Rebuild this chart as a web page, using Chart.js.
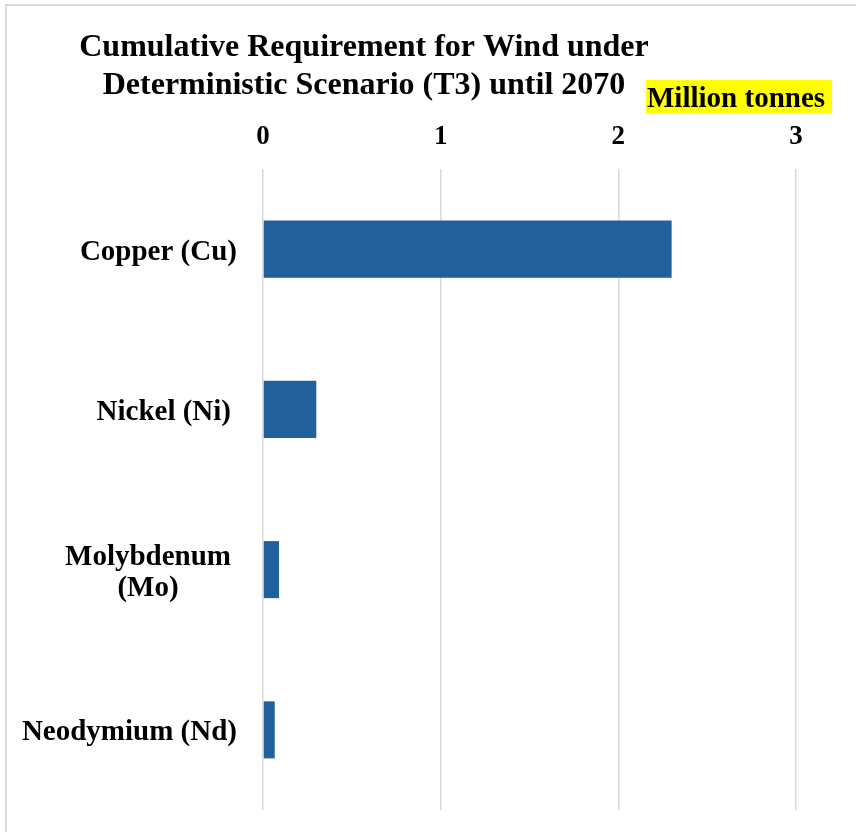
<!DOCTYPE html>
<html>
<head>
<meta charset="utf-8">
<script src="https://cdn.jsdelivr.net/npm/chart.js@4/dist/chart.umd.min.js"></script>
<style>
  html, body { margin: 0; padding: 0; background: #ffffff; }
  #wrap { position: relative; width: 856px; height: 832px; }
</style>
</head>
<body>
<div id="wrap"><canvas id="chart" width="856" height="832"></canvas></div>
<script>
// Cumulative material requirement for wind, million tonnes
const categories = [['Copper (Cu)'], ['Nickel (Ni)'], ['Molybdenum', '(Mo)'], ['Neodymium (Nd)']];
const values = [2.30, 0.30, 0.09, 0.066];
const xTicks = [0, 1, 2, 3];
const titleLines = ['Cumulative Requirement for Wind under', 'Deterministic Scenario (T3) until 2070'];
const unitLabel = 'Million tonnes';

const SERIF = "'Liberation Serif', 'Times New Roman', serif";
const GRID = '#d9d9d9';

// Frame, title, unit tag and category labels
const decorations = {
  id: 'decorations',
  afterDraw(chart) {
    const ctx = chart.ctx;
    ctx.save();

    // frame edges
    ctx.fillStyle = GRID;
    ctx.fillRect(5, 4, 851, 2);
    ctx.fillRect(5, 4, 2, 828);

    // title
    ctx.fillStyle = '#000';
    ctx.font = 'bold 32px ' + SERIF;
    ctx.textAlign = 'center';
    ctx.textBaseline = 'alphabetic';
    ctx.fillText(titleLines[0], 364, 56);
    ctx.fillText(titleLines[1], 364, 94);

    // unit tag
    ctx.font = 'bold 29px ' + SERIF;
    ctx.fillStyle = '#ffff00';
    ctx.fillRect(646, 80, 186, 33);
    ctx.fillStyle = '#000';
    ctx.textAlign = 'left';
    ctx.fillText(unitLabel, 647, 107);

    // category labels: block right-aligned, lines centred inside block
    const yScale = chart.scales.y;
    const rights = [237, 231, 231, 237];
    const lh = 31;
    ctx.textBaseline = 'middle';
    categories.forEach((lines, i) => {
      const yc = yScale.getPixelForTick(i) + 3;
      const maxW = Math.max(...lines.map(l => ctx.measureText(l).width));
      const cx = rights[i] - maxW / 2;
      ctx.textAlign = 'center';
      lines.forEach((l, j) => {
        const y = yc + (j - (lines.length - 1) / 2) * lh;
        ctx.fillText(l, cx, y);
      });
    });
    ctx.restore();
  }
};

new Chart(document.getElementById('chart'), {
  type: 'bar',
  data: {
    labels: categories.map(c => c.join(' ')),
    datasets: [{
      data: values,
      backgroundColor: '#22609c',
      borderWidth: 0,
      categoryPercentage: 1,
      barPercentage: 0.356
    }]
  },
  options: {
    indexAxis: 'y',
    responsive: false,
    animation: false,
    devicePixelRatio: 1,
    layout: { padding: { top: 0, left: 0, right: 60, bottom: 22 } },
    plugins: {
      legend: { display: false },
      title: { display: false },
      tooltip: { enabled: false }
    },
    scales: {
      x: {
        position: 'top',
        min: 0,
        max: 3,
        afterBuildTicks(scale) { scale.ticks = xTicks.map(v => ({ value: v })); },
        afterFit(scale) { scale.height = 169; },
        grid: { color: GRID, lineWidth: 1.5, drawTicks: false },
        border: { display: false },
        ticks: {
          color: '#000',
          font: { family: SERIF, size: 27, weight: 'bold' },
          padding: 16,
          maxRotation: 0
        }
      },
      y: {
        afterFit(scale) { scale.width = 263; },
        grid: { display: false },
        border: { display: false },
        ticks: { display: false }
      }
    }
  },
  plugins: [decorations]
});
</script>
</body>
</html>
